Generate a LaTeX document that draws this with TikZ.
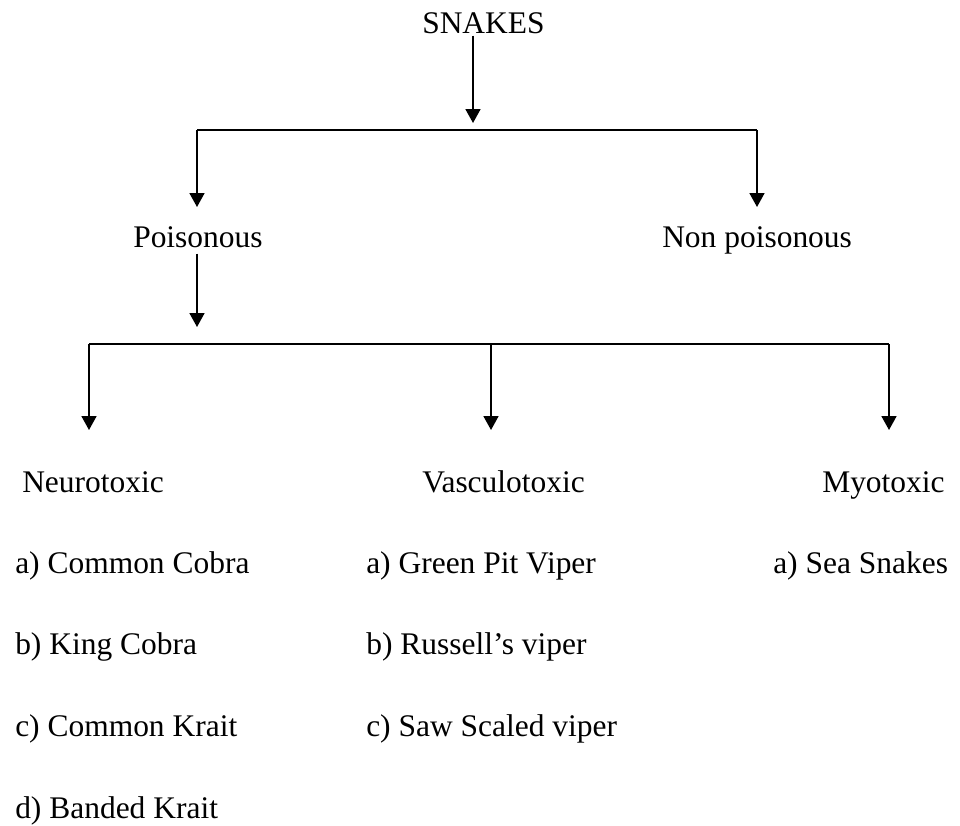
\documentclass[tikz,border=0pt]{standalone}
\usepackage{fontspec}
\setmainfont{Liberation Serif}
\usetikzlibrary{arrows.meta, positioning, calc}

\tikzset{
  lbl/.style={inner sep=0pt, anchor=base west, font=\fontsize{23.6}{28}\selectfont},
  bar/.style={line width=1.3pt},
  drop/.style={bar, -{Triangle[length=10.5pt, width=11.25pt]}},
}

\begin{document}
\begin{tikzpicture}[x=0.75pt, y=-0.75pt]
  \useasboundingbox (0,0) rectangle (960,825);

  % root and first split
  \node[lbl] (snakes) at (422,33) {SNAKES};
  \coordinate (rootTip) at (473,123);
  \draw[drop] (snakes.south -| rootTip) ++(0,2) -- (rootTip);

  \coordinate (splitAL) at (197,130);
  \coordinate (splitAR) at (757,130);
  \coordinate (poisTip) at (197,207);
  \coordinate (nonTip)  at (757,207);
  \draw[bar] (splitAL) -- (splitAR);
  \draw[drop] (splitAL) -- (poisTip);
  \draw[drop] (splitAR) -- (nonTip);

  \node[lbl] (pois)    at (133,247) {Poisonous};
  \node[lbl] (nonpois) at (662,247) {Non poisonous};

  % second split under Poisonous
  \coordinate (poisDown) at (197,327);
  \draw[drop] (pois.south -| poisDown) ++(0,6) -- (poisDown);

  \coordinate (splitBL) at (89,344);
  \coordinate (splitBM) at (491,344);
  \coordinate (splitBR) at (889,344);
  \draw[bar] (splitBL) -- (splitBR);
  \foreach \c in {splitBL, splitBM, splitBR}
    \draw[drop] (\c) -- (\c |- 0,430);

  \node[lbl] (neuro)  at (22,492)  {Neurotoxic};
  \node[lbl] (vasc)   at (422,492) {Vasculotoxic};
  \node[lbl] (myo)    at (822,492) {Myotoxic};

  % species lists
  \foreach \name [count=\i] in {a) Common Cobra, b) King Cobra, c) Common Krait, d) Banded Krait}
    \node[lbl] (neuro\i) at (15,{573+81.7*(\i-1)}) {\name};
  \foreach \name [count=\i] in {a) Green Pit Viper, b) Russell's viper, c) Saw Scaled viper}
    \node[lbl] (vasc\i) at (366,{573+81.7*(\i-1)}) {\name};
  \node[lbl] (myo1) at (773,573) {a) Sea Snakes};
\end{tikzpicture}
\end{document}
